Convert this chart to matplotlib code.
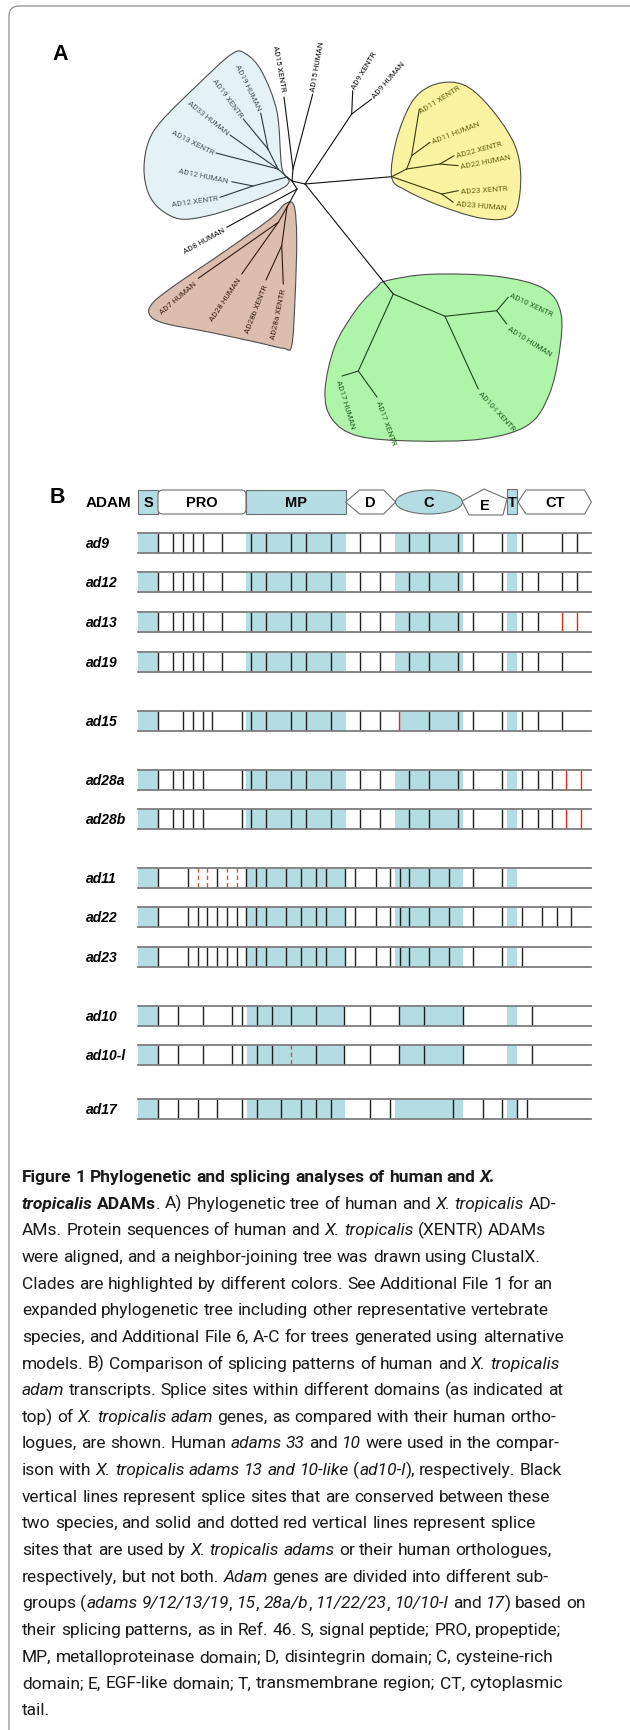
import matplotlib
matplotlib.use('Agg')
import matplotlib.pyplot as plt
from matplotlib.path import Path
from matplotlib.patches import PathPatch, FancyBboxPatch, Rectangle, Polygon, Ellipse

W, H = 630, 1731
TEAL = '#b3dde2'

# ---------------- panel A: tree ----------------
nodes = {
    'c': (292, 182), 'b0': (287, 178), 'b1': (278, 170), 'b19': (268, 150),
    't19h': (260.7, 114), 't19x': (243.3, 120), 't33': (230, 136), 't13': (216, 154),
    'b12': (253, 187), 't12h': (231.7, 182.7), 't12x': (220, 198.3),
    'n15': (293, 170), 't15x': (284, 98), 't15h': (312.7, 95),
    'r': (305, 185), 'n9': (351.7, 115), 't9x': (352.7, 91.7), 't9h': (371.7, 100),
    'y0': (391.7, 177.7), 'ya': (406.7, 170), 'yb': (411.7, 156.7),
    't11x': (419.3, 110), 't11h': (430, 143.3),
    'y22': (440, 165), 't22x': (454, 156.7), 't22h': (458.3, 166.7),
    'y23': (441.7, 195), 't23x': (458.3, 191.7), 't23h': (453.3, 203.3),
    'g0': (393.3, 295), 'g1': (445, 317.3), 'g2': (496.7, 311.7),
    't10x': (508.3, 298.3), 't10h': (506.7, 325), 't10l': (478.3, 390),
    'g3': (358.3, 372), 't17h': (342, 377), 't17x': (377, 398),
    'd': (297, 190), 't8': (226.7, 228.3), 'br0': (287, 208), 'br1': (278.3, 223.3),
    't7': (198.3, 279.3), 't28h': (241.7, 275), 'br2': (281.7, 246.7),
    't28b': (266, 281), 't28a': (283.3, 285),
}
edges_main = [('c', 'b0'), ('c', 'n15'), ('n15', 't15x'), ('n15', 't15h'), ('c', 'r'),
              ('r', 'n9'), ('n9', 't9x'), ('n9', 't9h'), ('r', 'y0'), ('r', 'g0'),
              ('c', 'd'), ('d', 't8'), ('d', 'br0')]
edges_blue = [('b0', 'b1'), ('b1', 'b19'), ('b19', 't19h'), ('b19', 't19x'), ('b1', 't33'),
              ('b1', 't13'), ('b0', 'b12'), ('b12', 't12h'), ('b12', 't12x')]
edges_yellow = [('y0', 'ya'), ('ya', 'yb'), ('yb', 't11x'), ('yb', 't11h'), ('ya', 'y22'),
                ('y22', 't22x'), ('y22', 't22h'), ('y0', 'y23'), ('y23', 't23x'), ('y23', 't23h')]
edges_green = [('g0', 'g1'), ('g1', 'g2'), ('g2', 't10x'), ('g2', 't10h'), ('g1', 't10l'),
               ('g0', 'g3'), ('g3', 't17h'), ('g3', 't17x')]
edges_brown = [('br0', 'br1'), ('br1', 't7'), ('br1', 't28h'), ('br0', 'br2'),
               ('br2', 't28b'), ('br2', 't28a')]

blob_blue = [(289, 183), (281.7, 168), (277, 113), (262, 73), (246, 55), (231.7, 55),
             (196.7, 86.7), (161.7, 121.7), (148.3, 143.3), (144, 170), (148.3, 194),
             (160, 210), (180, 220), (206.7, 217), (240, 207), (273, 194)]
blob_yellow = [(391.7, 178.3), (396.7, 140), (411.7, 103.3), (430, 87.3), (453.3, 83.3),
               (473.3, 91.7), (496.7, 116.7), (515, 146.7), (520.7, 176.7), (516.7, 210),
               (503.3, 220), (476.7, 218.3), (440, 206.7), (406.7, 191.7)]
blob_brown = [(285, 205), (294, 206.7), (296.7, 240), (295, 300), (291.7, 346.7),
              (283.3, 349.3), (256.7, 343.3), (210, 333.3), (163.3, 324), (149.3, 315),
              (153.3, 303.3), (176.7, 285), (223.3, 253.3), (270, 220)]
blob_green = [(386.7, 281.7), (430, 275.3), (496.7, 277.3), (543.3, 289.3), (560.7, 313.3),
              (559.3, 353.3), (549, 396), (528, 426), (482, 440), (413, 442),
              (358, 437), (332, 420), (325, 392), (335, 346.7), (356.7, 310), (376.7, 288.3)]

leaf_labels = [
    ('AD15 XENTR', 283, 92, -80, 'right', 'main'), ('AD15 HUMAN', 313.5, 92, 80, 'left', 'main'),
    ('AD9 XENTR', 353, 89, 59, 'left', 'main'), ('AD9 HUMAN', 373, 98, 49, 'left', 'main'),
    ('AD11 XENTR', 420, 112, 32, 'left', 'yellow'), ('AD11 HUMAN', 432, 142, 21, 'left', 'yellow'),
    ('AD22 XENTR', 456, 156, 15, 'left', 'yellow'), ('AD22 HUMAN', 461, 167, 11, 'left', 'yellow'),
    ('AD23 XENTR', 461, 192, 4, 'left', 'yellow'), ('AD23 HUMAN', 456, 204, -5, 'left', 'yellow'),
    ('AD19 HUMAN', 259, 111, -64, 'right', 'blue'), ('AD19 XENTR', 241, 117, -53.5, 'right', 'blue'),
    ('AD33 HUMAN', 228, 134, -38.7, 'right', 'blue'), ('AD13 XENTR', 213, 153, -27, 'right', 'blue'),
    ('AD12 HUMAN', 228, 182, -12, 'right', 'blue'), ('AD12 XENTR', 218, 199, 8, 'right', 'blue'),
    ('AD8 HUMAN', 224, 230, 29, 'right', 'main'),
    ('AD7 HUMAN', 196, 283, 40.8, 'right', 'brown'), ('AD28 HUMAN', 240, 279, 56, 'right', 'brown'),
    ('AD28b XENTR', 266, 285, 68.5, 'right', 'brown'), ('AD28a XENTR', 284, 289, 78, 'right', 'brown'),
    ('AD10 XENTR', 510, 295, -25, 'left', 'green'), ('AD10 HUMAN', 508, 328, -32, 'left', 'green'),
    ('AD10-l XENTR', 479, 393, -47.6, 'left', 'green'), ('AD17 HUMAN', 338, 380, -73, 'left', 'green'),
    ('AD17 XENTR', 378, 401, -70, 'left', 'green'),
]
clade_fill = {'blue': '#e4f2f5', 'yellow': '#faf4a2', 'brown': '#dcbeae', 'green': '#aef5a9'}
clade_line = {'main': '#111111', 'blue': '#2e3a3e', 'yellow': '#3b3a0c', 'brown': '#2e1c12', 'green': '#1c461c'}
clade_text = {'main': '#111111', 'blue': '#4a5a60', 'yellow': '#66630f', 'brown': '#3a2618', 'green': '#246024'}

# ---------------- panel B: splicing ----------------
rows = ['ad9', 'ad12', 'ad13', 'ad19', 'ad15', 'ad28a', 'ad28b',
        'ad11', 'ad22', 'ad23', 'ad10', 'ad10-l', 'ad17']
row_top = [534, 573, 613, 653, 712, 771, 810, 869, 908, 948, 1007, 1046, 1100]
row_sites = {
    'ad9': [158, 173, 183, 193, 203, 222, 251, 266, 291, 306, 331, 360, 380, 409, 429, 458, 473, 502, 522, 562, 577],
    'ad12': [158, 173, 183, 193, 203, 222, 251, 266, 291, 306, 331, 360, 380, 409, 429, 458, 473, 502, 522, 538, 562, 577],
    'ad13': [158, 173, 183, 193, 203, 222, 251, 266, 291, 306, 331, 360, 380, 409, 429, 458, 473, 502, 522, 538],
    'ad19': [158, 173, 183, 193, 203, 222, 251, 266, 291, 306, 331, 360, 380, 409, 429, 458, 473, 502, 522, 538, 562],
    'ad15': [158, 183, 193, 203, 212, 242, 251, 266, 291, 306, 331, 360, 380, 429, 458, 473, 502, 522, 538, 562],
    'ad28a': [158, 173, 183, 193, 203, 242, 251, 266, 291, 306, 331, 360, 380, 409, 429, 458, 473, 502, 522, 538, 552],
    'ad28b': [158, 173, 183, 193, 203, 242, 251, 266, 291, 306, 331, 360, 380, 409, 429, 458, 473, 502, 522, 538, 552],
    'ad11': [158, 188, 217, 246, 256, 266, 286, 301, 316, 326, 345, 355, 376, 390, 400, 409, 429, 449, 473, 502],
    'ad22': [158, 188, 198, 207, 217, 227, 237, 246, 256, 266, 286, 301, 316, 326, 345, 355, 376, 390, 400, 409,
             429, 449, 473, 502, 522, 542, 557, 571],
    'ad23': [158, 188, 198, 207, 217, 227, 237, 246, 256, 266, 286, 301, 316, 326, 345, 355, 376, 390, 400, 409,
             429, 449, 473, 502, 522],
    'ad10': [158, 178, 203, 232, 242, 257, 272, 291, 316, 344, 370, 399, 424, 463, 532],
    'ad10-l': [158, 178, 203, 232, 242, 257, 272, 316, 344, 370, 399, 424, 463, 532],
    'ad17': [158, 178, 198, 217, 242, 257, 281, 301, 316, 331, 370, 390, 453, 483, 502, 517, 527],
}
row_red = {'ad13': [562, 577], 'ad15': [399], 'ad28a': [566, 581], 'ad28b': [566, 581]}
row_dashed = {'ad11': [198, 207, 227, 237], 'ad10-l': [291]}
teal_std = [(138, 158), (246, 345.5), (395, 463), (507, 517)]
row_teal = {r: teal_std for r in rows}
row_teal['ad15'] = [(138, 158), (246, 345.5), (400, 463), (507, 517)]
row_teal['ad10'] = [(138, 158), (247, 345), (399, 463), (507, 517)]
row_teal['ad10-l'] = row_teal['ad10']
row_teal['ad17'] = [(138, 158), (247, 345), (395, 463), (507, 517)]
row_x0, row_x1, row_h = 138, 591.4, 20

domain_names = ['S', 'PRO', 'MP', 'D', 'C', 'E', 'T', 'CT']
domain_label_x = [148, 202, 296, 370, 429, 485, 512, 555]

# ---------------- caption ----------------
caption = [
    [("Figure 1 Phylogenetic and splicing analyses of human and ", 'b'), ("X.", 'bi')],
    [("tropicalis", 'bi'), (" ADAMs", 'b'), (". A) Phylogenetic tree of human and ", 'n'), ("X. tropicalis", 'i'), (" AD-", 'n')],
    [("AMs. Protein sequences of human and ", 'n'), ("X. tropicalis", 'i'), (" (XENTR) ADAMs", 'n')],
    [("were aligned, and a neighbor-joining tree was drawn using ClustalX.", 'n')],
    [("Clades are highlighted by different colors. See Additional File 1 for an", 'n')],
    [("expanded phylogenetic tree including other representative vertebrate", 'n')],
    [("species, and Additional File 6, A-C for trees generated using alternative", 'n')],
    [("models. B) Comparison of splicing patterns of human and ", 'n'), ("X. tropicalis", 'i')],
    [("adam", 'i'), (" transcripts. Splice sites within different domains (as indicated at", 'n')],
    [("top) of ", 'n'), ("X. tropicalis adam", 'i'), (" genes, as compared with their human ortho-", 'n')],
    [("logues, are shown. Human ", 'n'), ("adams 33", 'i'), (" and ", 'n'), ("10", 'i'), (" were used in the compar-", 'n')],
    [("ison with ", 'n'), ("X. tropicalis adams 13 and 10-like", 'i'), (" (", 'n'), ("ad10-l", 'i'), ("), respectively. Black", 'n')],
    [("vertical lines represent splice sites that are conserved between these", 'n')],
    [("two species, and solid and dotted red vertical lines represent splice", 'n')],
    [("sites that are used by ", 'n'), ("X. tropicalis adams", 'i'), (" or their human orthologues,", 'n')],
    [("respectively, but not both. ", 'n'), ("Adam", 'i'), (" genes are divided into different sub-", 'n')],
    [("groups (", 'n'), ("adams 9/12/13/19", 'i'), (", ", 'n'), ("15", 'i'), (", ", 'n'), ("28a/b", 'i'), (", ", 'n'),
     ("11/22/23", 'i'), (", ", 'n'), ("10/10-l", 'i'), (" and ", 'n'), ("17", 'i'), (") based on", 'n')],
    [("their splicing patterns, as in Ref. 46. S, signal peptide; PRO, propeptide;", 'n')],
    [("MP, metalloproteinase domain; D, disintegrin domain; C, cysteine-rich", 'n')],
    [("domain; E, EGF-like domain; T, transmembrane region; CT, cytoplasmic", 'n')],
    [("tail.", 'n')],
]
cap_left, cap_right, cap_base0, cap_step = 22, 581, 1182, 26.65
CAP_FONT = ['Roboto', 'DejaVu Sans']


def smooth_path(pts):
    # closed Catmull-Rom outline through pts, as cubic Bezier segments
    n = len(pts)
    verts, codes = [pts[0]], [Path.MOVETO]
    for i in range(n):
        p0, p1, p2, p3 = pts[i - 1], pts[i], pts[(i + 1) % n], pts[(i + 2) % n]
        c1 = (p1[0] + (p2[0] - p0[0]) / 6, p1[1] + (p2[1] - p0[1]) / 6)
        c2 = (p2[0] - (p3[0] - p1[0]) / 6, p2[1] - (p3[1] - p1[1]) / 6)
        verts += [c1, c2, p2]
        codes += [Path.CURVE4] * 3
    verts.append(pts[0])
    codes.append(Path.CLOSEPOLY)
    return Path(verts, codes)


fig = plt.figure(figsize=(W / 100, H / 100), dpi=100)
ax = fig.add_axes([0, 0, 1, 1])
ax.set_xlim(0, W)
ax.set_ylim(H, 0)
ax.axis('off')

# frame
ax.add_patch(FancyBboxPatch((9, 7), 700, 1800, boxstyle='round,pad=0,rounding_size=10',
                            fc='none', ec='#8c8c8c', lw=0.9))

# panel A
ax.text(60, 55, 'A', fontsize=15.5, fontweight='bold', family='Liberation Sans', ha='center', va='center')
for pts, key in [(blob_blue, 'blue'), (blob_yellow, 'yellow'), (blob_brown, 'brown'), (blob_green, 'green')]:
    ax.add_patch(PathPatch(smooth_path(pts), fc=clade_fill[key], ec='#4d4d4d', lw=0.8))
for edges, key in [(edges_main, 'main'), (edges_blue, 'blue'), (edges_yellow, 'yellow'),
                   (edges_green, 'green'), (edges_brown, 'brown')]:
    for a, b in edges:
        ax.plot([nodes[a][0], nodes[b][0]], [nodes[a][1], nodes[b][1]],
                color=clade_line[key], lw=0.8, solid_capstyle='round')
for txt, x, y, rot, ha, key in leaf_labels:
    ax.text(x, y, txt, fontsize=5.9, family=['Roboto', 'DejaVu Sans'], color=clade_text[key],
            rotation=rot, rotation_mode='anchor', ha=ha, va='center')

# panel B header
hy0, hy1 = 491, 515
hym = (hy0 + hy1) / 2
ax.text(57, 498, 'B', fontsize=15.5, fontweight='bold', family='Liberation Sans', ha='center', va='center')
ax.text(86, hym, 'ADAM', fontsize=11, fontweight='bold', family='Liberation Sans', va='center')
ec = '#6f6f6f'
ax.add_patch(Rectangle((138, hy0), 20, hy1 - hy0, fc=TEAL, ec=ec, lw=0.8))
ax.add_patch(FancyBboxPatch((158, hy0), 88, hy1 - hy0, boxstyle='round,pad=0,rounding_size=5',
                            fc='white', ec=ec, lw=0.8))
ax.add_patch(Rectangle((246, hy0), 99.5, hy1 - hy0, fc=TEAL, ec=ec, lw=0.8))
ax.add_patch(Polygon([(345.5, hym), (359.6, hy0), (383.7, hy0), (395.7, hym), (383.7, hy1), (359.6, hy1)],
                     closed=True, fc='white', ec=ec, lw=0.8))
ax.add_patch(Ellipse((429, hym), 67, hy1 - hy0, fc=TEAL, ec=ec, lw=0.8))
ax.add_patch(Polygon([(462, 502), (484, 490), (507, 500), (503, 516), (469, 516)],
                     closed=True, fc='white', ec=ec, lw=0.8))
ax.add_patch(Rectangle((507, hy0 - 1), 10, hy1 - hy0 + 1, fc=TEAL, ec=ec, lw=0.8))
ax.add_patch(Polygon([(518, hym), (526, hy0), (584.6, hy0), (591.4, hym), (584.6, hy1), (526, hy1)],
                     closed=True, fc='white', ec=ec, lw=0.8))
for name, x in zip(domain_names, domain_label_x):
    y = hym + 3 if name == 'E' else hym
    ax.text(x, y, name, fontsize=10.5, fontweight='bold',
            family='Liberation Sans', ha='center', va='center')

# panel B rows
for name, top in zip(rows, row_top):
    bot = top + row_h
    for x0, x1 in row_teal[name]:
        ax.add_patch(Rectangle((x0, top), x1 - x0, row_h, fc=TEAL, ec='none'))
    ax.vlines(row_sites[name], top, bot, color='#1e1e1e', lw=1.0)
    if name in row_red:
        ax.vlines(row_red[name], top, bot, color='#e3281f', lw=1.0)
    if name in row_dashed:
        ax.vlines(row_dashed[name], top, bot, color='#c4583c', lw=1.0, linestyles=(0, (3, 2.2)))
    ax.plot([row_x0, row_x1], [top, top], color='#7d7d7d', lw=1.3)
    ax.plot([row_x0, row_x1], [bot, bot], color='#7d7d7d', lw=1.3)
    ax.text(86, top + row_h / 2, name, fontsize=10, fontweight='bold', fontstyle='italic',
            family='Liberation Sans', va='center')

# caption, laid out word by word
renderer = fig.canvas.get_renderer()


def style_kw(st):
    return dict(fontweight='bold' if 'b' in st else 'normal',
                fontstyle='italic' if 'i' in st else 'normal')


def text_width(s, st, fs):
    t = ax.text(0, 0, s, fontsize=fs, family=CAP_FONT, **style_kw(st))
    w = t.get_window_extent(renderer).width
    t.remove()
    return w


def words_of(line):
    words = [[]]
    for txt, st in line:
        parts = txt.split(' ')
        for k, p in enumerate(parts):
            if k > 0:
                words.append([])
            if p:
                words[-1].append((p, st))
    return [w for w in words if w]


def line_width(line, fs):
    ws = words_of(line)
    sp = text_width('a a', 'n', fs) - text_width('aa', 'n', fs)
    return sum(text_width(p, st, fs) for w in ws for p, st in w) + sp * (len(ws) - 1)


base = 12.0
widest = max(line_width(line, base) for line in caption)
cap_fs = base * (cap_right - cap_left) / widest
space = text_width('a a', 'n', cap_fs) - text_width('aa', 'n', cap_fs)
for i, line in enumerate(caption):
    x = cap_left
    y = cap_base0 + i * cap_step
    for w in words_of(line):
        for p, st in w:
            t = ax.text(x, y, p, fontsize=cap_fs, family=CAP_FONT, va='baseline', ha='left',
                        color='#1a1a1a', **style_kw(st))
            x += t.get_window_extent(renderer).width
        x += space

fig.savefig('out.png', dpi=100)
